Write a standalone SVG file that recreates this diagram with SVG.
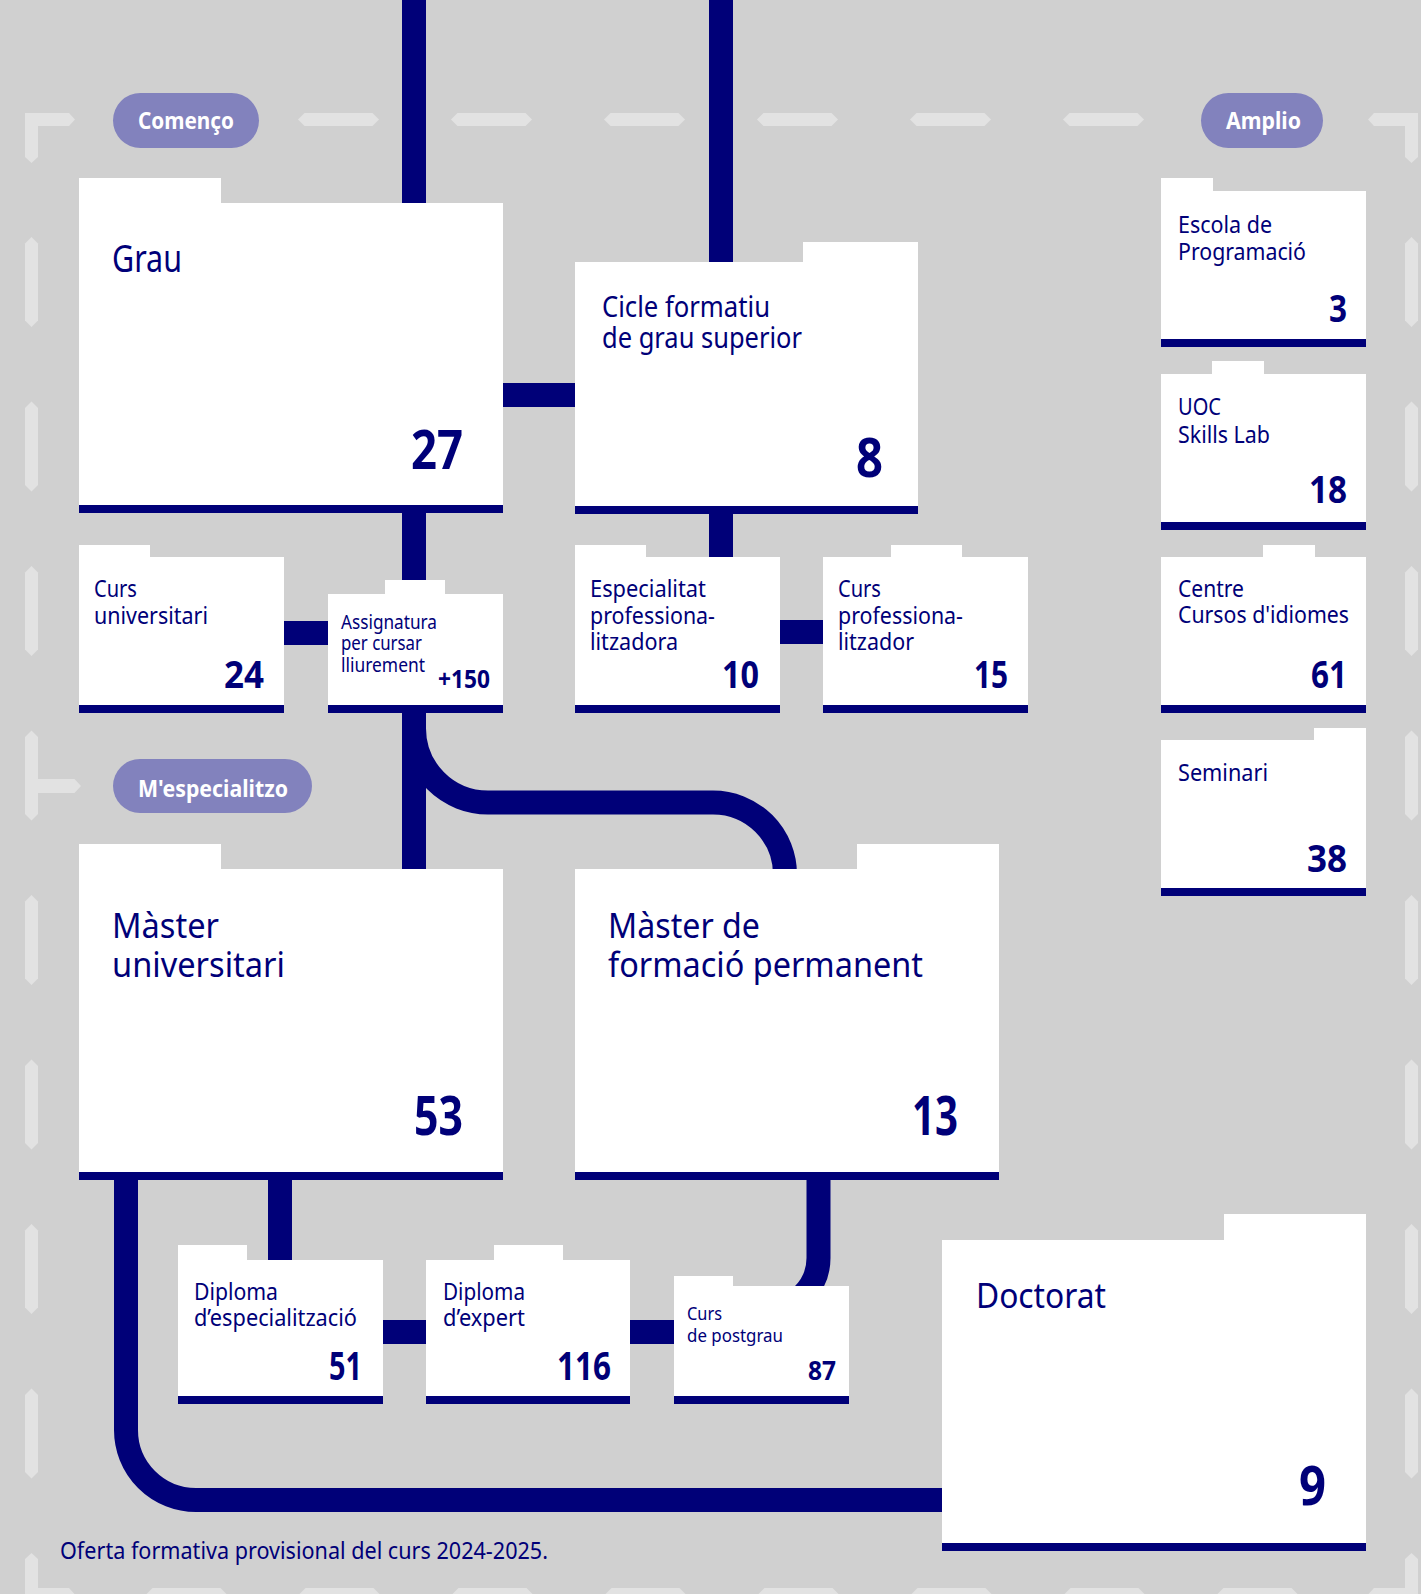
<svg xmlns="http://www.w3.org/2000/svg" width="1421" height="1594" viewBox="0 0 1421 1594">
<style>
.bg{fill:#d0d0d0}
.dash{fill:#e2e2e2}
.card{fill:#ffffff}
.bar{fill:#000078}
.line{fill:none;stroke:#000078;stroke-width:24}
.lr{fill:#000078}
.pill{fill:#8282bd}
.t{font-family:"Noto Sans","Open Sans",sans-serif;fill:#000078}
.n{font-family:"Noto Sans","Open Sans",sans-serif;font-weight:700;fill:#000078;text-anchor:end}
.pt{font-family:"Noto Sans","Open Sans",sans-serif;font-weight:700;fill:#ffffff;text-anchor:middle}
</style>
<defs>
<polygon id="vd" points="0,6.5 6.5,0 13,6.5 13,83.5 6.5,90 0,83.5"/>
<polygon id="hd" points="0,6.5 6.5,0 74.5,0 81,6.5 74.5,13 6.5,13"/>
</defs>
<rect class="bg" x="0" y="0" width="1421" height="1594"/>

<g id="frame" class="dash">
<polygon points="25,113 69,113 75,119.5 69,126 38,126 38,157 31.5,163 25,157"/>
<polygon points="1418,113 1374,113 1368,119.5 1374,126 1405,126 1405,157 1411.5,163 1418,157"/>
<polygon points="25,1601 25,1559 31.5,1553 38,1559 38,1588 69,1588 75,1594.5 69,1601"/>
<polygon points="1418,1601 1418,1559 1411.5,1553 1405,1559 1405,1588 1374,1588 1368,1594.5 1374,1601"/>
<polygon points="25,737 31.5,730.5 38,737 38,779 74.5,779 81,786 74.5,793 38,793 38,814 31.5,820.5 25,814"/>
<use href="#vd" x="25" y="237"/><use href="#vd" x="25" y="401.5"/><use href="#vd" x="25" y="566"/>
<use href="#vd" x="25" y="895"/><use href="#vd" x="25" y="1059.5"/><use href="#vd" x="25" y="1224"/><use href="#vd" x="25" y="1388.5"/>
<use href="#vd" x="1405" y="237"/><use href="#vd" x="1405" y="401.5"/><use href="#vd" x="1405" y="566"/><use href="#vd" x="1405" y="730.5"/>
<use href="#vd" x="1405" y="895"/><use href="#vd" x="1405" y="1059.5"/><use href="#vd" x="1405" y="1224"/><use href="#vd" x="1405" y="1388.5"/>
<use href="#hd" x="298" y="113"/><use href="#hd" x="451" y="113"/><use href="#hd" x="604" y="113"/>
<use href="#hd" x="757" y="113"/><use href="#hd" x="910" y="113"/><use href="#hd" x="1063" y="113"/>
<use href="#hd" x="146" y="1588"/><use href="#hd" x="299" y="1588"/><use href="#hd" x="452" y="1588"/><use href="#hd" x="605" y="1588"/>
<use href="#hd" x="758" y="1588"/><use href="#hd" x="911" y="1588"/><use href="#hd" x="1064" y="1588"/><use href="#hd" x="1217" y="1588"/>
</g>

<g id="connectors">
<line class="line" x1="414" y1="0" x2="414" y2="205"/>
<line class="line" x1="721" y1="0" x2="721" y2="264"/>
<rect class="lr" x="500" y="383" width="78" height="24"/>
<line class="line" x1="414" y1="510" x2="414" y2="872"/>
<line class="line" x1="721" y1="510" x2="721" y2="560"/>
<rect class="lr" x="281" y="621" width="50" height="24"/>
<rect class="lr" x="777" y="620" width="49" height="24"/>
<path class="line" d="M414,713 V728 A74,74 0 0 0 488,802.5 H713 A72,72 0 0 1 785,874.5"/>
<line class="line" x1="280" y1="1178" x2="280" y2="1263"/>
<rect class="lr" x="380" y="1320" width="49" height="24"/>
<rect class="lr" x="627" y="1320" width="50" height="24"/>
<path class="line" d="M818.5,1178 V1258 A52,52 0 0 1 766.5,1310"/>
<path class="line" d="M126,1178 V1430 A70,70 0 0 0 196,1500 H945"/>
</g>

<g id="pill-comenco"><rect class="pill" x="113" y="93" width="146" height="55" rx="27.5"/><text class="pt" x="186" y="129" font-size="24" textLength="96" lengthAdjust="spacingAndGlyphs">Començo</text></g>
<g id="pill-amplio"><rect class="pill" x="1201" y="93" width="122" height="55" rx="27.5"/><text class="pt" x="1263.5" y="129" font-size="24" textLength="75" lengthAdjust="spacingAndGlyphs">Amplio</text></g>
<g id="pill-especialitzo"><rect class="pill" x="113" y="759" width="199" height="54" rx="27"/><text class="pt" x="213" y="797" font-size="24" textLength="150" lengthAdjust="spacingAndGlyphs">M'especialitzo</text></g>

<g id="grau">
<path class="card" d="M79,178 H221 V203 H503 V513 H79 Z"/><rect class="bar" x="79" y="505" width="424" height="8"/>
<text class="t" x="112" y="272" font-size="38" textLength="70" lengthAdjust="spacingAndGlyphs">Grau</text>
<text class="n" x="463" y="469" font-size="54" textLength="52" lengthAdjust="spacingAndGlyphs">27</text>
</g>
<g id="cicle">
<path class="card" d="M575,262 H803 V242 H918 V514 H575 Z"/><rect class="bar" x="575" y="506" width="343" height="8"/>
<text class="t" font-size="29.5"><tspan x="602" y="317" textLength="168" lengthAdjust="spacingAndGlyphs">Cicle formatiu</tspan><tspan x="602" y="348" textLength="200" lengthAdjust="spacingAndGlyphs">de grau superior</tspan></text>
<text class="n" x="883" y="477" font-size="54" textLength="27" lengthAdjust="spacingAndGlyphs">8</text>
</g>
<g id="escola">
<path class="card" d="M1161,178 H1213 V191 H1366 V347 H1161 Z"/><rect class="bar" x="1161" y="339" width="205" height="8"/>
<text class="t" font-size="23"><tspan x="1178" y="233" textLength="94" lengthAdjust="spacingAndGlyphs">Escola de</tspan><tspan x="1178" y="260" textLength="128" lengthAdjust="spacingAndGlyphs">Programació</tspan></text>
<text class="n" x="1347" y="322" font-size="37" textLength="18" lengthAdjust="spacingAndGlyphs">3</text>
</g>
<g id="skills">
<path class="card" d="M1161,374 H1212 V361 H1264 V374 H1366 V530 H1161 Z"/><rect class="bar" x="1161" y="522" width="205" height="8"/>
<text class="t" font-size="23"><tspan x="1178" y="415" textLength="43" lengthAdjust="spacingAndGlyphs">UOC</tspan><tspan x="1178" y="443" textLength="92" lengthAdjust="spacingAndGlyphs">Skills Lab</tspan></text>
<text class="n" x="1347" y="503" font-size="37" textLength="38" lengthAdjust="spacingAndGlyphs">18</text>
</g>
<g id="curs-universitari">
<path class="card" d="M79,545 H150 V557 H284 V713 H79 Z"/><rect class="bar" x="79" y="705" width="205" height="8"/>
<text class="t" font-size="23"><tspan x="94" y="597" textLength="43" lengthAdjust="spacingAndGlyphs">Curs</tspan><tspan x="94" y="624" textLength="114" lengthAdjust="spacingAndGlyphs">universitari</tspan></text>
<text class="n" x="264" y="688" font-size="37" textLength="40" lengthAdjust="spacingAndGlyphs">24</text>
</g>
<g id="assignatura">
<path class="card" d="M328,594 H385 V580 H445 V594 H503 V713 H328 Z"/><rect class="bar" x="328" y="705" width="175" height="8"/>
<text class="t" font-size="19.5"><tspan x="341" y="629" textLength="96" lengthAdjust="spacingAndGlyphs">Assignatura</tspan><tspan x="341" y="650" textLength="81" lengthAdjust="spacingAndGlyphs">per cursar</tspan><tspan x="341" y="672" textLength="84" lengthAdjust="spacingAndGlyphs">lliurement</tspan></text>
<text class="n" x="490" y="688" font-size="25" textLength="52" lengthAdjust="spacingAndGlyphs">+150</text>
</g>
<g id="especialitat">
<path class="card" d="M575,545 H646 V557 H780 V713 H575 Z"/><rect class="bar" x="575" y="705" width="205" height="8"/>
<text class="t" font-size="23"><tspan x="590" y="597" textLength="116" lengthAdjust="spacingAndGlyphs">Especialitat</tspan><tspan x="590" y="624" textLength="125" lengthAdjust="spacingAndGlyphs">professiona-</tspan><tspan x="590" y="650" textLength="88" lengthAdjust="spacingAndGlyphs">litzadora</tspan></text>
<text class="n" x="759" y="688" font-size="37" textLength="37" lengthAdjust="spacingAndGlyphs">10</text>
</g>
<g id="curs-professionalitzador">
<path class="card" d="M823,557 H891 V545 H962 V557 H1028 V713 H823 Z"/><rect class="bar" x="823" y="705" width="205" height="8"/>
<text class="t" font-size="23"><tspan x="838" y="597" textLength="43" lengthAdjust="spacingAndGlyphs">Curs</tspan><tspan x="838" y="624" textLength="125" lengthAdjust="spacingAndGlyphs">professiona-</tspan><tspan x="838" y="650" textLength="76" lengthAdjust="spacingAndGlyphs">litzador</tspan></text>
<text class="n" x="1008" y="688" font-size="37" textLength="34" lengthAdjust="spacingAndGlyphs">15</text>
</g>
<g id="centre">
<path class="card" d="M1161,557 H1263 V545 H1315 V557 H1366 V713 H1161 Z"/><rect class="bar" x="1161" y="705" width="205" height="8"/>
<text class="t" font-size="23"><tspan x="1178" y="597" textLength="66" lengthAdjust="spacingAndGlyphs">Centre</tspan><tspan x="1178" y="623" textLength="171" lengthAdjust="spacingAndGlyphs">Cursos d'idiomes</tspan></text>
<text class="n" x="1347" y="688" font-size="37" textLength="36" lengthAdjust="spacingAndGlyphs">61</text>
</g>
<g id="seminari">
<path class="card" d="M1161,740 H1314 V728 H1366 V896 H1161 Z"/><rect class="bar" x="1161" y="888" width="205" height="8"/>
<text class="t" x="1178" y="781" font-size="23" textLength="90" lengthAdjust="spacingAndGlyphs">Seminari</text>
<text class="n" x="1347" y="872" font-size="37" textLength="40" lengthAdjust="spacingAndGlyphs">38</text>
</g>
<g id="master-universitari">
<path class="card" d="M79,844 H221 V869 H503 V1180 H79 Z"/><rect class="bar" x="79" y="1172" width="424" height="8"/>
<text class="t" font-size="35"><tspan x="112" y="938" textLength="107" lengthAdjust="spacingAndGlyphs">Màster</tspan><tspan x="112" y="977" textLength="173" lengthAdjust="spacingAndGlyphs">universitari</tspan></text>
<text class="n" x="463" y="1135" font-size="54" textLength="49" lengthAdjust="spacingAndGlyphs">53</text>
</g>
<g id="master-formacio-permanent">
<path class="card" d="M575,869 H857 V844 H999 V1180 H575 Z"/><rect class="bar" x="575" y="1172" width="424" height="8"/>
<text class="t" font-size="35"><tspan x="608" y="938" textLength="152" lengthAdjust="spacingAndGlyphs">Màster de</tspan><tspan x="608" y="977" textLength="315" lengthAdjust="spacingAndGlyphs">formació permanent</tspan></text>
<text class="n" x="958" y="1135" font-size="54" textLength="46" lengthAdjust="spacingAndGlyphs">13</text>
</g>
<g id="diploma-especialitzacio">
<path class="card" d="M178,1245 H247 V1260 H383 V1404 H178 Z"/><rect class="bar" x="178" y="1396" width="205" height="8"/>
<text class="t" font-size="24"><tspan x="194" y="1300" textLength="84" lengthAdjust="spacingAndGlyphs">Diploma</tspan><tspan x="194" y="1326" textLength="163" lengthAdjust="spacingAndGlyphs">d’especialització</tspan></text>
<text class="n" x="362" y="1380" font-size="39" textLength="33" lengthAdjust="spacingAndGlyphs">51</text>
</g>
<g id="diploma-expert">
<path class="card" d="M426,1260 H494 V1245 H563 V1260 H630 V1404 H426 Z"/><rect class="bar" x="426" y="1396" width="204" height="8"/>
<text class="t" font-size="24"><tspan x="443" y="1300" textLength="82" lengthAdjust="spacingAndGlyphs">Diploma</tspan><tspan x="443" y="1326" textLength="82" lengthAdjust="spacingAndGlyphs">d’expert</tspan></text>
<text class="n" x="611" y="1380" font-size="39" textLength="54" lengthAdjust="spacingAndGlyphs">116</text>
</g>
<g id="curs-postgrau">
<path class="card" d="M674,1276 H733 V1286 H849 V1404 H674 Z"/><rect class="bar" x="674" y="1396" width="175" height="8"/>
<text class="t" font-size="18"><tspan x="687" y="1320" textLength="35" lengthAdjust="spacingAndGlyphs">Curs</tspan><tspan x="687" y="1342" textLength="96" lengthAdjust="spacingAndGlyphs">de postgrau</tspan></text>
<text class="n" x="836" y="1380" font-size="26" textLength="28" lengthAdjust="spacingAndGlyphs">87</text>
</g>
<g id="doctorat">
<path class="card" d="M942,1240 H1224 V1214 H1366 V1551 H942 Z"/><rect class="bar" x="942" y="1543" width="424" height="8"/>
<text class="t" x="976" y="1308" font-size="34" textLength="130" lengthAdjust="spacingAndGlyphs">Doctorat</text>
<text class="n" x="1326" y="1505" font-size="54" textLength="27" lengthAdjust="spacingAndGlyphs">9</text>
</g>
<text id="footnote" class="t" x="60" y="1559" font-size="23" textLength="488" lengthAdjust="spacingAndGlyphs">Oferta formativa provisional del curs 2024-2025.</text>
</svg>
